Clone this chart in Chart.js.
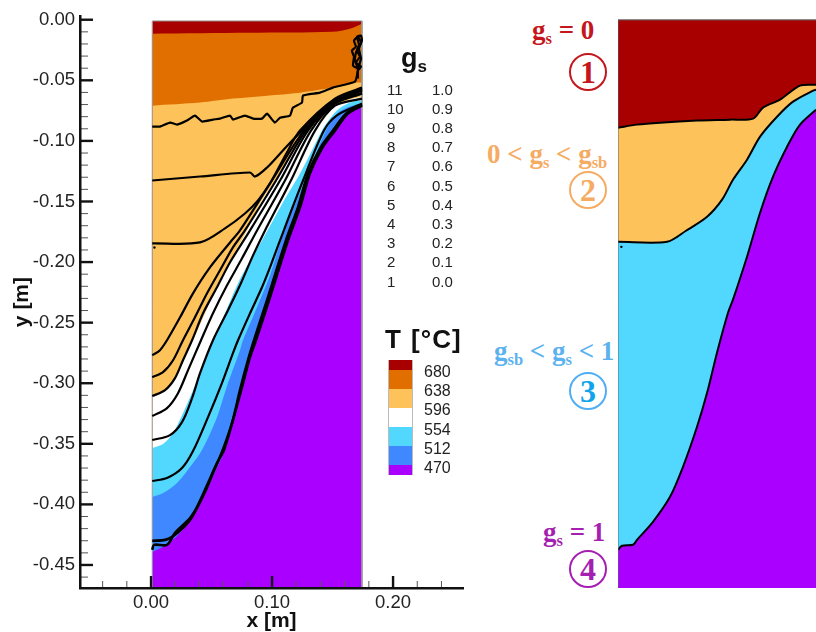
<!DOCTYPE html>
<html>
<head>
<meta charset="utf-8">
<title>Solid fraction and temperature</title>
<script src="https://cdn.jsdelivr.net/npm/chart.js@4/dist/chart.umd.min.js"></script>
<style>
  html, body { margin: 0; padding: 0; background: #fff; }
  body { position: relative; width: 816px; height: 632px; overflow: hidden; font-family: "Liberation Sans", sans-serif; color: #222; }
  canvas { position: absolute; top: 0; }
  .t { position: absolute; white-space: nowrap; line-height: 1; }
  .serif { font-family: "Liberation Serif", serif; font-weight: bold; font-size: 27px; }
  .serif sub { font-size: 16.5px; line-height: 0; vertical-align: -5px; }
  .circle { position: absolute; width: 34px; height: 34px; border: 2px solid; border-radius: 50%; text-align: center;
            font-family: "Liberation Serif", serif; font-weight: bold; font-size: 32px; line-height: 34px; }
  .swatch { position: absolute; left: 388px; width: 23px; border-left: 1px solid #bbb; border-right: 1px solid #bbb; }
</style>
</head>
<body>
<canvas id="leftChart" width="480" height="632" style="left:0"></canvas>
<canvas id="rightChart" width="199" height="632" style="left:617px"></canvas>
<script>
const xMajor = [0, 0.1, 0.2];
const xMinor = [-0.04, -0.02, 0.02, 0.04, 0.06, 0.08, 0.12, 0.14, 0.16, 0.18, 0.22, 0.24];
const yMajor = [0, -0.05, -0.1, -0.15, -0.2, -0.25, -0.3, -0.35, -0.4, -0.45];

const tempLabels = ['680', '638', '596', '554', '512', '470'];
const tempColors = ['#a80000', '#e16f00', '#fdc25a', '#ffffff', '#52d8ff', '#3f88ff', '#aa00ff'];
const gsLevels = ['11', '10', '9', '8', '7', '6', '5', '4', '3', '2', '1'];
const gsValues = ['1.0', '0.9', '0.8', '0.7', '0.6', '0.5', '0.4', '0.3', '0.2', '0.1', '0.0'];

// temperature band tops, left panel [x, y] in m
const redTop = [[0.001, -0.001], [0.1743, -0.001]];
const orangeTop = [[0.001, -0.0115], [0.0818, -0.0107], [0.15, -0.0099], [0.1644, -0.0074], [0.1743, -0.0033]];
const lightTop = [[0.001, -0.0709], [0.0405, -0.0684], [0.0677, -0.0651], [0.0958, -0.0627], [0.1231, -0.0602], [0.1503, -0.056], [0.1669, -0.0519], [0.1743, -0.0519]];
const whiteTop = [[0.001, -0.3115], [0.0099, -0.3074], [0.0182, -0.2975], [0.0264, -0.281], [0.0347, -0.2645], [0.0446, -0.2423], [0.0553, -0.2175], [0.0677, -0.1945], [0.0793, -0.1739], [0.09, -0.1516], [0.1041, -0.1302], [0.1173, -0.1079], [0.1289, -0.0915], [0.1396, -0.0832], [0.1503, -0.0725], [0.1619, -0.0667], [0.1743, -0.0634]];
const cyanTop = [[0.001, -0.3535], [0.0099, -0.3502], [0.0182, -0.3411], [0.0264, -0.3247], [0.0347, -0.3057], [0.043, -0.2851], [0.0512, -0.2645], [0.0611, -0.2423], [0.0719, -0.2175], [0.0834, -0.1961], [0.0917, -0.1821], [0.109, -0.1508], [0.1231, -0.1269], [0.1338, -0.1063], [0.1412, -0.0915], [0.1437, -0.0873], [0.1536, -0.075], [0.1627, -0.0692], [0.1743, -0.0659]];
const blueTop = [[0.001, -0.3939], [0.0099, -0.3906], [0.0215, -0.3823], [0.0322, -0.3692], [0.0421, -0.3551], [0.0545, -0.328], [0.0636, -0.2999], [0.0735, -0.2727], [0.076, -0.2645], [0.0876, -0.2373], [0.0983, -0.2109], [0.1075, -0.1821], [0.1272, -0.1327], [0.1445, -0.0915], [0.1536, -0.0775], [0.1644, -0.0717], [0.1743, -0.07]];
const purpleTop = [[0.001, -0.4392], [0.0099, -0.4351], [0.0198, -0.4277], [0.0297, -0.4169], [0.038, -0.4029], [0.0463, -0.3881], [0.0529, -0.3733], [0.0611, -0.3551], [0.0677, -0.3304], [0.0752, -0.3032], [0.0818, -0.2785], [0.0867, -0.2645], [0.0983, -0.2291], [0.1132, -0.1821], [0.1231, -0.1549], [0.1313, -0.1269], [0.1412, -0.1063], [0.152, -0.0915], [0.1627, -0.0775], [0.1685, -0.0725], [0.1743, -0.0709]];

// solid fraction contours, left panel
const gs1 = [[0.001, -0.0882], [0.0074, -0.0882], [0.0157, -0.0849], [0.0215, -0.0865], [0.0297, -0.0832], [0.0363, -0.0791], [0.0421, -0.084], [0.0512, -0.0824], [0.057, -0.0816], [0.0653, -0.0791], [0.0677, -0.0824], [0.0776, -0.0791], [0.0843, -0.0816], [0.0917, -0.0816], [0.0958, -0.0775], [0.1024, -0.0849], [0.1066, -0.0808], [0.1148, -0.0791], [0.1173, -0.0725], [0.1247, -0.0684], [0.1256, -0.0626], [0.1396, -0.0602], [0.1503, -0.056], [0.1685, -0.0511], [0.171, -0.0404], [0.1685, -0.0338], [0.1693, -0.0272], [0.1718, -0.0206], [0.1702, -0.014], [0.1735, -0.0132], [0.1743, -0.0173], [0.1718, -0.0239], [0.1735, -0.0321], [0.171, -0.0404]];
const gs1Blob = [[0.171, -0.0404], [0.1669, -0.0379], [0.1677, -0.0305], [0.166, -0.0255], [0.1693, -0.0222], [0.1677, -0.0173], [0.171, -0.014], [0.1735, -0.019], [0.1702, -0.0255], [0.1726, -0.0305], [0.1693, -0.0354], [0.1735, -0.0387], [0.171, -0.042], [0.171, -0.0486]];
const gs2 = [[0.001, -0.1327], [0.0405, -0.1294], [0.0818, -0.1261], [0.0859, -0.1294], [0.0958, -0.122], [0.109, -0.1079], [0.1247, -0.0915], [0.152, -0.0659], [0.1743, -0.0569]];
const gs3 = [[0.001, -0.1846], [0.0405, -0.1838], [0.0611, -0.1722], [0.0776, -0.1599], [0.0884, -0.1491], [0.0983, -0.1351], [0.1123, -0.1096], [0.1231, -0.0915], [0.152, -0.0651], [0.1743, -0.056]];
const gs4 = [[0.001, -0.2769], [0.0074, -0.2727], [0.0132, -0.2645], [0.024, -0.2456], [0.0347, -0.2258], [0.0487, -0.2044], [0.0653, -0.1838], [0.0735, -0.1739], [0.0999, -0.1327], [0.1264, -0.0915], [0.152, -0.0667], [0.1743, -0.0577]];
const gs5 = [[0.001, -0.295], [0.0099, -0.2909], [0.0182, -0.281], [0.0264, -0.2645], [0.0363, -0.2456], [0.0463, -0.2258], [0.057, -0.2068], [0.0677, -0.1879], [0.0776, -0.1739], [0.1033, -0.1327], [0.128, -0.0915], [0.152, -0.0676], [0.1743, -0.0585]];
const gs6 = [[0.001, -0.3106], [0.0116, -0.3057], [0.0198, -0.2958], [0.0264, -0.281], [0.0339, -0.2645], [0.043, -0.2423], [0.0545, -0.2208], [0.0653, -0.2002], [0.0818, -0.1739], [0.1066, -0.1327], [0.1297, -0.0915], [0.152, -0.0684], [0.1743, -0.0602]];
const gs7 = [[0.001, -0.3271], [0.0132, -0.3205], [0.0223, -0.3082], [0.0306, -0.2892], [0.0413, -0.2645], [0.0512, -0.2423], [0.0628, -0.2192], [0.0752, -0.1969], [0.0876, -0.1739], [0.1107, -0.1327], [0.1322, -0.0915], [0.152, -0.0692], [0.1743, -0.061]];
const gs8 = [[0.001, -0.3469], [0.0157, -0.3428], [0.0256, -0.3321], [0.0339, -0.3123], [0.0405, -0.2917], [0.0512, -0.2645], [0.0636, -0.2398], [0.0735, -0.2192], [0.0843, -0.1945], [0.0942, -0.1739], [0.1156, -0.1327], [0.1355, -0.0915], [0.152, -0.0709], [0.1743, -0.0651]];
const gs9 = [[0.001, -0.3807], [0.0132, -0.3782], [0.0256, -0.37], [0.0347, -0.356], [0.0471, -0.328], [0.0586, -0.2999], [0.0677, -0.2752], [0.0719, -0.2645], [0.0818, -0.2423], [0.0917, -0.2208], [0.0983, -0.2044], [0.1066, -0.1821], [0.1256, -0.1327], [0.1429, -0.0915], [0.1536, -0.079], [0.1743, -0.0692]];
const gs10 = [[0.001, -0.4301], [0.0116, -0.4293], [0.0174, -0.4268], [0.0264, -0.4194], [0.0339, -0.4104], [0.0446, -0.3898], [0.0512, -0.3741], [0.0586, -0.3568], [0.0669, -0.3329], [0.0735, -0.3057], [0.0801, -0.281], [0.0851, -0.2645], [0.0966, -0.2291], [0.1115, -0.1821], [0.1214, -0.1549], [0.1297, -0.1269], [0.1396, -0.1063], [0.1503, -0.0915], [0.1611, -0.0775], [0.1743, -0.07]];
const gs11 = [[0.001, -0.4375], [0.0025, -0.4334], [0.0132, -0.4334], [0.0198, -0.4235], [0.0322, -0.4112], [0.0388, -0.4005], [0.0471, -0.3823], [0.0545, -0.3659], [0.0603, -0.3551], [0.0677, -0.3304], [0.0752, -0.3032], [0.0818, -0.2785], [0.0867, -0.2645], [0.0983, -0.2291], [0.1132, -0.1821], [0.1231, -0.1549], [0.1313, -0.1269], [0.1412, -0.1063], [0.152, -0.0915], [0.1627, -0.0775], [0.1743, -0.0709]];
const strayPoint = [[0.0028, -0.188]];

// right panel, the four zones
const zone1Top = [[0, -0.001], [0.1636, -0.001]];
const zone2Top = [[0, -0.0898], [0.0157, -0.0873], [0.0347, -0.0857], [0.0653, -0.084], [0.0926, -0.0832], [0.1116, -0.0824], [0.1198, -0.0733], [0.1339, -0.0667], [0.1504, -0.0552], [0.1636, -0.0544]];
const zone3Top = [[0, -0.1838], [0.0405, -0.1838], [0.0562, -0.1747], [0.0736, -0.1632], [0.086, -0.1491], [0.095, -0.1327], [0.1066, -0.1162], [0.1174, -0.0972], [0.1314, -0.0808], [0.1446, -0.0684], [0.1612, -0.0593], [0.1636, -0.0585]];
const zone4Top = [[0, -0.4375], [0.0033, -0.4342], [0.0124, -0.4334], [0.0157, -0.4293], [0.0289, -0.4145], [0.043, -0.3939], [0.0537, -0.3692], [0.0653, -0.3362], [0.0736, -0.3082], [0.0818, -0.2752], [0.0909, -0.2423], [0.095, -0.2315], [0.1066, -0.1961], [0.1174, -0.1599], [0.1281, -0.1302], [0.1397, -0.1055], [0.1504, -0.0873], [0.1636, -0.075]];
const rightWall = [[0, -0.469], [0, -0.001], [0.1636, -0.001]];
const leftFrame = [[0.001, -0.469], [0.001, -0.001], [0.1743, -0.001], [0.1743, -0.469]];

const contours = [gs1, gs1Blob, gs2, gs3, gs4, gs5, gs6, gs7, gs8, gs9, gs10, gs11];
const yMin = -0.469;
const yMax = 0.003;

function toPoints(pairs) {
  return pairs.map((p) => ({ x: p[0], y: p[1] }));
}

function band(pairs, color, lineWidth) {
  return { data: toPoints(pairs), showLine: true, fill: 'start', backgroundColor: color,
    borderColor: '#000', borderWidth: lineWidth || 0, pointRadius: 0, tension: 0.3 };
}

function line(pairs, color, width, tension) {
  return { data: toPoints(pairs), showLine: true, fill: false, borderColor: color,
    borderWidth: width, pointRadius: 0, tension: tension };
}

function stray(pairs) {
  return { data: toPoints(pairs), showLine: false, pointRadius: 1.2, pointBackgroundColor: '#000', pointBorderWidth: 0 };
}

// later in the list is painted later
function paintInOrder(list) {
  list.forEach((d, i) => { d.order = list.length - i; });
  return list;
}

// tecplot style ticks, pointing into the plot
const inwardTicks = {
  id: 'inwardTicks',
  afterDatasetsDraw(chart) {
    const ctx = chart.ctx;
    const x = chart.scales.x;
    const y = chart.scales.y;
    ctx.save();
    ctx.strokeStyle = '#111';
    ctx.lineWidth = 2.4;
    xMajor.forEach((v) => {
      const p = x.getPixelForValue(v);
      ctx.beginPath(); ctx.moveTo(p, y.bottom); ctx.lineTo(p, y.bottom - 12); ctx.stroke();
    });
    yMajor.forEach((v) => {
      const p = y.getPixelForValue(v);
      ctx.beginPath(); ctx.moveTo(x.left, p); ctx.lineTo(x.left + 13, p); ctx.stroke();
    });
    ctx.strokeStyle = '#555';
    ctx.lineWidth = 1;
    xMinor.forEach((v) => {
      const p = x.getPixelForValue(v);
      ctx.beginPath(); ctx.moveTo(p, y.bottom); ctx.lineTo(p, y.bottom - 7); ctx.stroke();
    });
    yMajor.forEach((v) => {
      for (let k = 1; k < 5; k += 1) {
        const p = y.getPixelForValue(v - k * 0.01);
        if (p < y.bottom) {
          ctx.beginPath(); ctx.moveTo(x.left, p); ctx.lineTo(x.left + 8, p); ctx.stroke();
        }
      }
    });
    ctx.restore();
  }
};

const tickFont = { family: '"Liberation Sans", sans-serif', size: 18.5 };
const titleFont = { family: '"Liberation Sans", sans-serif', size: 21, weight: 'bold', lineHeight: 1 };

new Chart(document.getElementById('leftChart').getContext('2d'), {
  type: 'scatter',
  data: {
    datasets: paintInOrder([
      band(redTop, tempColors[0]),
      band(orangeTop, tempColors[1]),
      band(lightTop, tempColors[2]),
      band(whiteTop, tempColors[3]),
      band(cyanTop, tempColors[4]),
      band(blueTop, tempColors[5]),
      band(purpleTop, tempColors[6]),
      line(leftFrame, '#9a9a9a', 1, 0)
    ].concat(contours.map((c, i) => line(c, '#000', i > 9 ? 2.6 : 2.2, i < 2 ? 0.15 : 0.3))).concat([stray(strayPoint)]))
  },
  options: {
    responsive: false,
    animation: false,
    layout: { autoPadding: false, padding: { top: 15, right: 17, left: 0, bottom: 0 } },
    plugins: { legend: { display: false }, tooltip: { enabled: false } },
    scales: {
      x: {
        type: 'linear',
        min: -0.0587,
        max: 0.2578,
        afterBuildTicks(axis) { axis.ticks = xMajor.map((v) => ({ value: v })); },
        afterFit(axis) { axis.height = 44; },
        grid: { drawOnChartArea: false, drawTicks: false },
        border: { color: '#111', width: 2.5, z: 1 },
        ticks: { font: tickFont, color: '#222', padding: 4, maxRotation: 0, autoSkip: false,
          callback: (v) => v.toFixed(2) },
        title: { display: true, text: 'x [m]', font: titleFont, color: '#111', padding: { top: 0, bottom: 0 } }
      },
      y: {
        type: 'linear',
        min: yMin,
        max: yMax,
        afterBuildTicks(axis) { axis.ticks = yMajor.map((v) => ({ value: v })); },
        afterFit(axis) { axis.width = 80; },
        grid: { drawOnChartArea: false, drawTicks: false },
        border: { color: '#111', width: 2.5, z: 1 },
        ticks: { font: tickFont, color: '#222', padding: 5, autoSkip: false,
          callback: (v) => v.toFixed(2) },
        title: { display: true, text: 'y [m]', font: titleFont, color: '#111', padding: { top: 12, bottom: 0 } }
      }
    }
  },
  plugins: [inwardTicks]
});

new Chart(document.getElementById('rightChart').getContext('2d'), {
  type: 'scatter',
  data: {
    datasets: paintInOrder([
      band(zone1Top, tempColors[0]),
      band(zone2Top, tempColors[2], 2),
      band(zone3Top, tempColors[4], 2),
      band(zone4Top, tempColors[6], 2),
      line(rightWall, '#5d6b70', 1, 0),
      stray(strayPoint)
    ])
  },
  options: {
    responsive: false,
    animation: false,
    layout: { autoPadding: false, padding: { top: 15, left: 1, right: 0, bottom: 44 } },
    plugins: { legend: { display: false }, tooltip: { enabled: false } },
    scales: {
      x: { type: 'linear', display: false, min: 0, max: 0.1636 },
      y: { type: 'linear', display: false, min: yMin, max: yMax }
    }
  }
});

function addText(text, left, top, cls, css) {
  const el = document.createElement('div');
  el.className = 't ' + (cls || '');
  el.innerHTML = text;
  el.style.left = left + 'px';
  el.style.top = top + 'px';
  Object.assign(el.style, css || {});
  document.body.appendChild(el);
  return el;
}

// gs table
addText('g<span style="font-size:17px;position:relative;top:5px">s</span>', 401, 45, '', { fontWeight: 'bold', fontSize: '27px', color: '#111' });
gsLevels.forEach((v, i) => {
  const rowTop = 81.5 + i * 19.2;
  addText(v, 387, rowTop, '', { fontSize: '15px' });
  addText(gsValues[i], 432, rowTop, '', { fontSize: '15px' });
});

// temperature key
addText('T [&#176;C]', 385, 326, '', { fontWeight: 'bold', fontSize: '26px', color: '#111', wordSpacing: '1px', letterSpacing: '1px' });
const swatchEdges = [360, 370, 389, 408, 427, 446, 465, 475];
tempColors.forEach((c, i) => {
  const s = document.createElement('div');
  s.className = 'swatch';
  s.style.top = swatchEdges[i] + 'px';
  s.style.height = (swatchEdges[i + 1] - swatchEdges[i]) + 'px';
  s.style.background = c;
  document.body.appendChild(s);
});
tempLabels.forEach((v, i) => {
  addText(v, 424, 364 + i * 19.2, '', { fontSize: '16px' });
});

// zone labels of the right panel
addText('g<sub>s</sub> = 0', 532, 17, 'serif', { color: '#c4161c' });
addText('0 &lt; g<sub>s</sub> &lt; g<sub>sb</sub>', 487, 141, 'serif', { color: '#f6ab62' });
addText('g<sub>sb</sub> &lt; g<sub>s</sub> &lt; 1', 494, 338, 'serif', { color: '#5cb2ee' });
addText('g<sub>s</sub> = 1', 543, 519, 'serif', { color: '#a51fb0' });

const circleNumbers = ['1', '2', '3', '4'];
const circleTops = [53, 171, 372, 550];
const circleEdge = ['#c4161c', '#f6ab62', '#52aef2', '#a51fb0'];
const circleInk = ['#c4161c', '#f6ab62', '#12a4ea', '#a51fb0'];
circleNumbers.forEach((n, i) => {
  const c = document.createElement('div');
  c.className = 'circle';
  c.textContent = n;
  c.style.left = '569px';
  c.style.top = circleTops[i] + 'px';
  c.style.borderColor = circleEdge[i];
  c.style.color = circleInk[i];
  document.body.appendChild(c);
});
</script>
</body>
</html>
